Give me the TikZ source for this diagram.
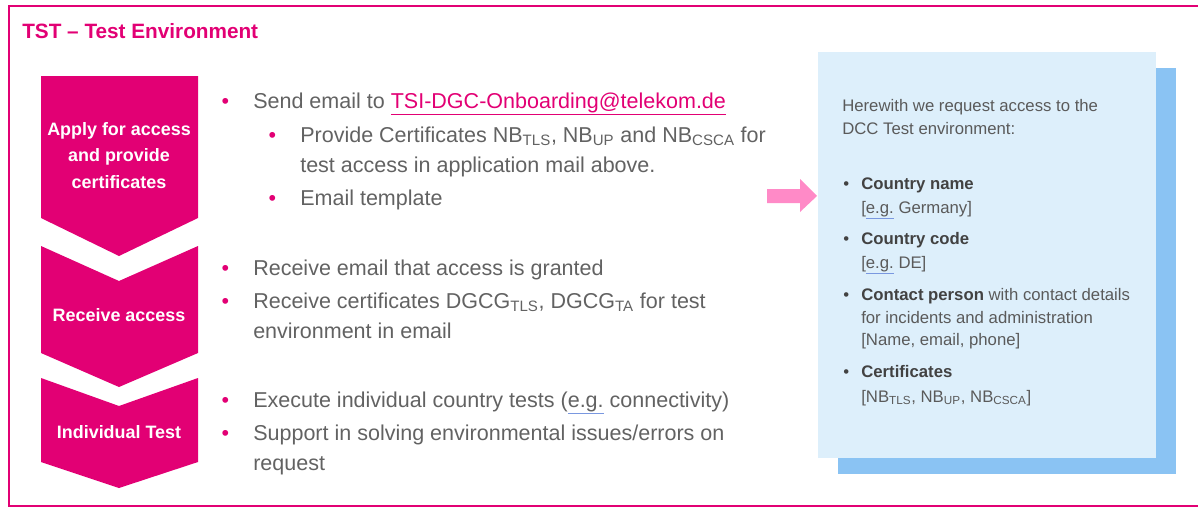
\documentclass[tikz,border=0pt]{standalone}
\usepackage{fontspec}
\setmainfont{Liberation Sans}
\usepackage{tikz}

\definecolor{tmagenta}{HTML}{E20074}
\definecolor{txtgray}{HTML}{626262}
\definecolor{boxgray}{HTML}{5A5A5A}
\definecolor{boldgray}{HTML}{424242}
\definecolor{arrowpink}{HTML}{FF8AC7}
\definecolor{boxblue}{HTML}{DDEFFB}
\definecolor{shadowblue}{HTML}{8AC3F3}
\definecolor{spellblue}{HTML}{7A98E0}

\newcommand\mbul{\llap{\textcolor{tmagenta}{\textbullet}\hspace{0.6cm}}}
\newcommand\bbul{\llap{\textcolor{boldgray}{\textbullet}\hspace{0.3cm}}}
\newcommand\eg{{\color{spellblue}\underline{\color{boxgray}e.g.}}}
\newcommand\egm{{\color{spellblue}\underline{\color{txtgray}e.g.}}}
\newcommand\mailto{{\color{tmagenta}\underline{TSI-DGC-Onboarding@telekom.de}}}

\tikzset{
  chevron/.style={fill=tmagenta},
  chevtxt/.style={text=white,inner sep=0,align=center,
    font=\bfseries\fontsize{12.75}{19}\selectfont},
  maintxt/.style={anchor=base west,inner sep=0,text=txtgray,
    font=\fontsize{15.3}{18}\selectfont},
  boxtxt/.style={anchor=base west,inner sep=0,text=boxgray,
    font=\fontsize{11.9}{14}\selectfont}
}

\begin{document}
\begin{tikzpicture}[x=0.025cm,y=-0.025cm]
  \useasboundingbox (0,0) rectangle (1198,508);
  \draw[tmagenta,line width=1.4pt] (1198,6) -- (9,6) -- (9,506) -- (1198,506);
  \node[anchor=base west,inner sep=0,text=tmagenta,font=\bfseries\fontsize{14.75}{17}\selectfont]
    (title) at (22,38) {TST -- Test Environment};

  % steps
  \fill[chevron] (41,76) -- (198,76) -- (198,218) -- (119,256) -- (41,218) -- cycle;
  \fill[chevron] (41,246) -- (119,281) -- (198,246) -- (198,353) -- (119,387) -- (41,353) -- cycle;
  \fill[chevron] (41,378) -- (119,406) -- (198,378) -- (198,462) -- (119,488) -- (41,462) -- cycle;
  \node[chevtxt,anchor=north] (apply) at (119,122) {Apply for access\\and provide\\certificates};
  \node[chevtxt,anchor=base] (receive) at (119,321) {Receive access};
  \node[chevtxt,anchor=base] (indiv) at (119,438) {Individual Test};

  % step texts
  \node[maintxt] (send) at (253,108) {\mbul Send email to \mailto};
  \node[maintxt] (provide) at (300,142) {\mbul Provide Certificates NB\textsubscript{TLS}, NB\textsubscript{UP} and NB\textsubscript{CSCA} for};
  \node[maintxt] (provide2) at (300,172) {test access in application mail above.};
  \node[maintxt] (template) at (300,205) {\mbul Email template};
  \node[maintxt] (granted) at (253,275) {\mbul Receive email that access is granted};
  \node[maintxt] (dgcg) at (253,308) {\mbul Receive certificates DGCG\textsubscript{TLS}, DGCG\textsubscript{TA} for test};
  \node[maintxt] (dgcg2) at (253,338) {environment in email};
  \node[maintxt] (execute) at (253,407) {\mbul Execute individual country tests (\egm\ connectivity)};
  \node[maintxt] (support) at (253,440) {\mbul Support in solving environmental issues/errors on};
  \node[maintxt] (support2) at (253,470) {request};

  % arrow and mail template
  \fill[arrowpink] (767,189) -- (800,189) -- (800,179) -- (817,196) -- (800,212) -- (800,203) -- (767,203) -- cycle;
  \fill[shadowblue] (838,68) rectangle (1176,474);
  \fill[boxblue] (818,52) rectangle (1156,458);
  \node[boxtxt] (intro) at (842,111) {Herewith we request access to the};
  \node[boxtxt] (intro2) at (842,134) {DCC Test environment:};
  \node[boxtxt] (cname) at (861,189) {\bbul\textcolor{boldgray}{\bfseries Country name}};
  \node[boxtxt] (cname2) at (861,213) {[\eg\ Germany]};
  \node[boxtxt] (ccode) at (861,244) {\bbul\textcolor{boldgray}{\bfseries Country code}};
  \node[boxtxt] (ccode2) at (861,268) {[\eg\ DE]};
  \node[boxtxt] (contact) at (861,300) {\bbul\textcolor{boldgray}{\bfseries Contact person} with contact details};
  \node[boxtxt] (contact2) at (861,323) {for incidents and administration};
  \node[boxtxt] (contact3) at (861,345) {[Name, email, phone]};
  \node[boxtxt] (certs) at (861,377) {\bbul\textcolor{boldgray}{\bfseries Certificates}};
  \node[boxtxt] (certs2) at (861,402) {[NB\textsubscript{TLS}, NB\textsubscript{UP}, NB\textsubscript{CSCA}]};
\end{tikzpicture}
\end{document}
